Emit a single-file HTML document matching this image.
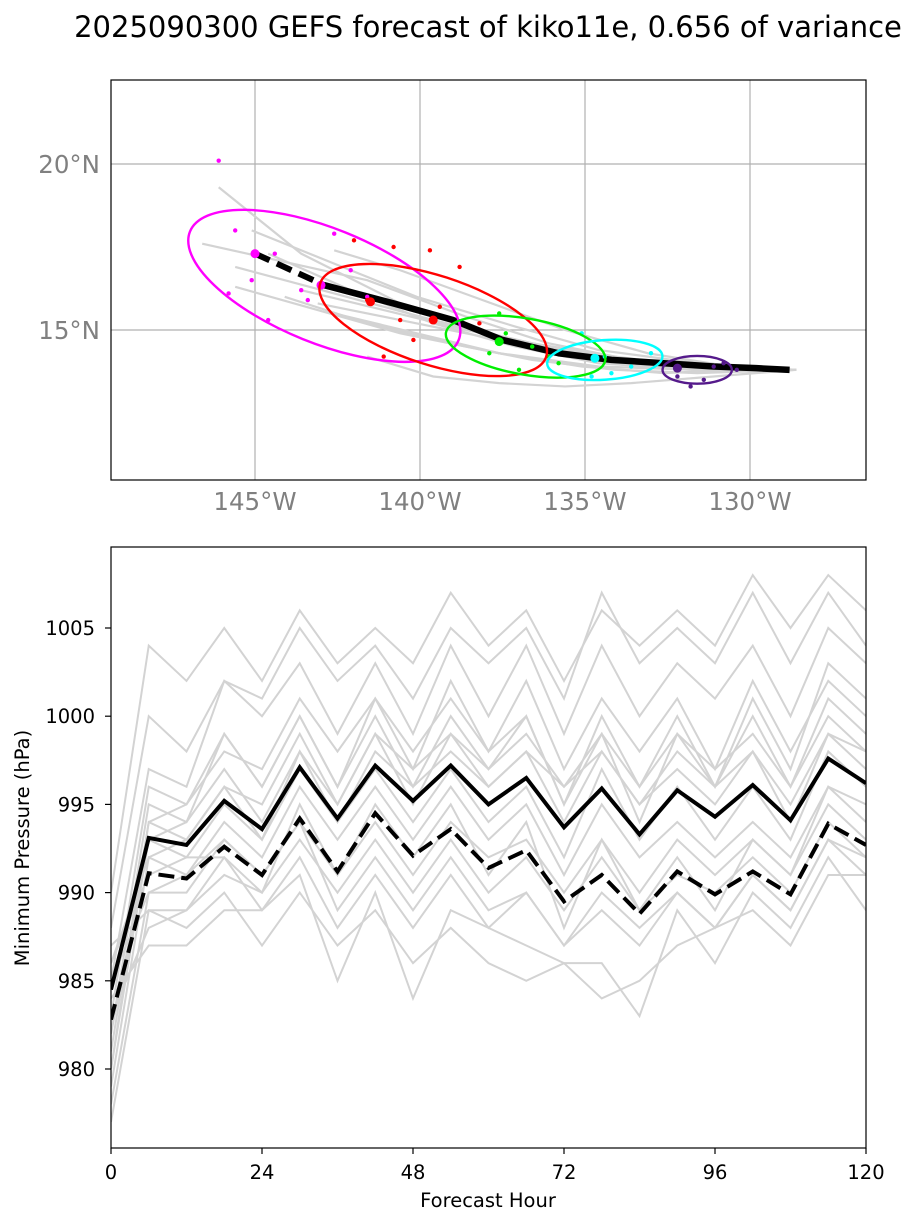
<!DOCTYPE html>
<html><head><meta charset="utf-8"><style>
body{margin:0;background:#fff;font-family:"DejaVu Sans","Liberation Sans",sans-serif;}
svg{display:block}
text{font-family:"DejaVu Sans","Liberation Sans",sans-serif;}
</style></head><body>
<svg id="fig" width="919" height="1226" xmlns="http://www.w3.org/2000/svg">
<text x="488" y="37" font-size="29" text-anchor="middle" fill="#000">2025090300 GEFS forecast of kiko11e, 0.656 of variance</text>
<g id="map"></g>
<g id="pres"></g>
</svg>
<script>
// ---- Map data ----
const lonTicks=[-145,-140,-135,-130];
const latTicks=[15,20];
const meanLon=[-145.0,-142.9,-140.8,-139.0,-137.5,-135.8,-134.2,-132.6,-131.1,-129.8,-128.8];
const meanLat=[17.3,16.35,15.8,15.3,14.7,14.3,14.1,14.0,13.9,13.85,13.8];
const trackLon=[
[-128.6,-131.6,-134.6,-137.6,-140.6,-143.6,-146.1],
[-128.6,-131.6,-134.6,-137.1,-139.6,-142.1,-144.6],
[-128.6,-131.1,-133.6,-136.1,-138.6,-141.6,-146.6],
[-128.6,-131.6,-134.1,-136.6,-139.1,-141.6,-144.1],
[-128.6,-130.6,-133.1,-135.6,-138.1,-140.6,-142.6],
[-128.6,-131.6,-134.6,-137.6,-140.6,-143.1,-145.6],
[-128.6,-131.1,-133.6,-135.6,-137.6,-139.6,-141.6],
[-128.6,-131.6,-134.6,-137.1,-140.1,-142.6,-145.1],
[-128.6,-130.6,-132.6,-135.1,-137.6,-140.1,-142.6],
[-128.6,-131.6,-134.1,-136.6,-139.6,-142.6,-145.6],
[-128.6,-131.1,-133.6,-136.1,-138.6,-141.1,-143.6],
[-128.6,-131.6,-134.1,-136.1,-138.1,-140.6,-143.1]];
const trackLat=[
[13.8,13.9,14.2,14.8,15.8,17.3,19.3],
[13.8,13.8,14.0,14.5,15.2,16.2,17.3],
[13.8,13.9,14.1,14.6,15.4,16.5,17.6],
[13.8,13.7,13.8,14.1,14.6,15.2,16.0],
[13.8,13.9,14.3,15.0,15.9,16.8,17.4],
[13.8,13.8,13.9,14.3,14.9,15.6,16.3],
[13.8,13.6,13.4,13.3,13.4,13.6,14.2],
[13.8,14.0,14.4,15.1,16.0,17.0,18.0],
[13.8,13.8,13.7,13.9,14.3,14.9,15.5],
[13.8,13.9,14.2,14.6,15.3,16.1,16.9],
[13.8,13.9,14.1,14.5,15.0,15.6,16.2],
[13.8,13.8,14.0,14.3,14.8,15.3,15.8]];
const ellColors=["#ff00ff","#ff0000","#00ee00","#00ffff","#551a8b"];
const ellLon=[-142.9,-139.6,-136.8,-134.4,-131.6];
const ellLat=[16.33,15.3,14.5,14.1,13.8];
const ellA=[4.39,3.6,2.45,1.75,1.05];
const ellB=[1.74,1.35,0.85,0.6,0.42];
const ellAng=[22,18,10,-4,0];
const bigLon=[-145.0,-143.0,-141.5,-139.6,-137.6,-134.7,-132.2];
const bigLat=[17.3,16.35,15.85,15.3,14.65,14.15,13.85];
const bigCol=[0,0,1,1,2,3,4];
const dotLon=[[-146.1,-145.6,-144.4,-142.6,-142.1,-143.6,-145.1,-145.8,-141.6,-143.4,-144.6],[-142.0,-140.8,-139.7,-138.8,-140.6,-141.6,-138.2,-140.2,-141.1,-139.4],[-137.6,-136.6,-136.1,-137.4,-137.9,-135.8,-137.0],[-135.1,-134.4,-133.6,-133.0,-134.2,-134.8],[-132.2,-131.4,-130.8,-130.4,-131.8,-131.1]];
const dotLat=[[20.1,18,17.3,17.9,16.8,16.2,16.5,16.1,16.0,15.9,15.3],[17.7,17.5,17.4,16.9,15.3,15.9,15.2,14.7,14.2,15.7],[15.5,14.5,14.2,14.9,14.3,14.0,13.8],[14.9,14.2,13.9,14.3,13.7,13.6],[13.6,13.5,14.0,13.8,13.3,13.9]];
// ---- Pressure data ----
const hours=[0,6,12,18,24,30,36,42,48,54,60,66,72,78,84,90,96,102,108,114,120];
const meanP=[984.5,993.1,992.7,995.2,993.6,997.1,994.2,997.2,995.2,997.2,995.0,996.5,993.7,995.9,993.3,995.8,994.3,996.1,994.1,997.6,996.2];
const dashP=[982.8,991.1,990.8,992.6,991.0,994.2,991.2,994.5,992.1,993.6,991.4,992.4,989.5,991.0,988.8,991.2,989.9,991.2,989.9,993.9,992.7];
const memberP=[
[990,1004,1002,1005,1002,1006,1003,1005,1003,1007,1004,1006,1002,1006,1004,1006,1004,1008,1005,1008,1006],
[988,1000,998,1002,1001,1005,1002,1004,1001,1005,1003,1005,1001,1007,1003,1005,1003,1007,1003,1007,1004],
[985,997,996,1002,1000,1003,999,1003,999,1004,1000,1004,999,1004,1000,1003,1001,1004,1000,1005,1003],
[983,996,995,998,997,1001,998,1001,997,1002,998,1002,997,1001,998,1001,997,1002,998,1002,1000],
[982,995,994,999,996,1000,996,1000,996,1000,997,1000,995,999,996,999,996,1000,996,1000,998],
[981,994,993,996,995,999,995,999,995,999,996,998,994,998,995,997,995,998,994,999,997],
[980,993,992,995,993,998,994,997,994,997,994,996,992,997,993,996,993,996,993,998,996],
[979,992,991,994,992,996,993,996,993,996,993,995,991,995,992,994,992,994,992,996,994],
[978,990,990,993,991,994,991,994,991,994,992,993,990,993,990,993,991,993,991,995,993],
[977,989,989,992,990,993,990,993,990,993,990,992,989,992,989,991,990,992,990,994,992],
[986,991,992,992,989,991,985,990,984,989,988,987,986,986,983,989,986,990,988,992,989],
[987,989,988,990,987,990,987,989,986,988,986,985,986,984,985,987,988,989,987,991,991],
[984,987,987,989,989,992,988,991,988,991,988,990,987,989,987,990,988,991,989,993,991],
[983,988,989,991,990,995,991,995,992,995,991,994,988,993,989,992,989,993,991,996,995],
[985,990,991,993,991,994,989,992,989,992,989,990,987,990,988,990,988,991,989,993,992],
[986,992,993,996,993,997,994,998,996,998,996,998,996,999,994,999,997,999,996,1001,999],
[982,993,994,997,994,998,995,999,997,999,997,999,996,998,995,998,996,998,995,999,998],
[980,994,995,999,996,1000,996,1001,998,1001,998,1000,995,1000,996,1000,996,1001,997,1003,1001]];
const pTicks=[980,985,990,995,1000,1005];
const hTicks=[0,24,48,72,96,120];

const NS="http://www.w3.org/2000/svg";
function mk(p,tag,at){const e=document.createElementNS(NS,tag);for(const k in at)e.setAttribute(k,at[k]);p.appendChild(e);return e;}
const M={x0:111,x1:866,y0:80,y1:480};
const mx=lon=>255+(lon+145)*33;
const my=lat=>330-(lat-15)*33.2;
const map=document.getElementById('map');
lonTicks.forEach(l=>{const g=mk(map,'line',{x1:mx(l),x2:mx(l),y1:M.y0,y2:M.y1,stroke:'#b0b0b0','stroke-width':1.2});

const t=mk(map,'text',{x:mx(l),y:510,'font-size':24.5,fill:'#808080','text-anchor':'middle'});t.textContent=(-l)+'°W';
});
latTicks.forEach(l=>{const g=mk(map,'line',{x1:M.x0,x2:M.x1,y1:my(l),y2:my(l),stroke:'#b0b0b0','stroke-width':1.2});

const t=mk(map,'text',{x:100,y:my(l)+9,'font-size':24.5,fill:'#808080','text-anchor':'end'});t.textContent=l+'°N';
});
const mclip=mk(map,'clipPath',{id:'mc'});mk(mclip,'rect',{x:M.x0,y:M.y0,width:M.x1-M.x0,height:M.y1-M.y0});
const mg=mk(map,'g',{'clip-path':'url(#mc)'});
trackLon.forEach((tl,i)=>{const p=mk(mg,'polyline',{points:tl.map((x,j)=>mx(x)+','+my(trackLat[i][j])).join(' '),fill:'none',stroke:'#d3d3d3','stroke-width':2.2});
});
const md=mk(mg,'polyline',{points:meanLon.slice(0,2).map((x,j)=>mx(x)+','+my(meanLat[j])).join(' '),fill:'none',stroke:'#000','stroke-width':6,'stroke-dasharray':'16,8'});

const mp=mk(mg,'polyline',{points:meanLon.slice(1).map((x,j)=>mx(x)+','+my(meanLat[j+1])).join(' '),fill:'none',stroke:'#000','stroke-width':6.5,'stroke-linejoin':'round'});

dotLon.forEach((dl,i)=>dl.forEach((x,j)=>{const c=mk(mg,'circle',{cx:mx(x),cy:my(dotLat[i][j]),r:2.2,fill:ellColors[i]});
}));
bigLon.forEach((x,i)=>{const d=mk(mg,'circle',{cx:mx(x),cy:my(bigLat[i]),r:4.5,fill:ellColors[bigCol[i]]});
});
ellLon.forEach((x,i)=>{const cx=mx(x),cy=my(ellLat[i]);
const e=mk(mg,'ellipse',{cx:cx,cy:cy,rx:ellA[i]*33,ry:ellB[i]*33,fill:'none',stroke:ellColors[i],'stroke-width':2.4,transform:`rotate(${ellAng[i]} ${cx} ${cy})`});
});
const mf=mk(map,'rect',{x:M.x0,y:M.y0,width:M.x1-M.x0,height:M.y1-M.y0,fill:'none',stroke:'#000','stroke-width':1.2});

const P={x0:111,x1:866,y0:547,y1:1148};
const px=h=>P.x0+h*(P.x1-P.x0)/120;
const py=v=>1069-(v-980)*17.64;
const pr=document.getElementById('pres');
const clip=mk(pr,'clipPath',{id:'pc'});mk(clip,'rect',{x:P.x0,y:P.y0,width:P.x1-P.x0,height:P.y1-P.y0});
const lg=mk(pr,'g',{'clip-path':'url(#pc)'});
memberP.forEach(m=>{const p=mk(lg,'polyline',{points:m.map((v,j)=>px(hours[j])+','+py(v)).join(' '),fill:'none',stroke:'#d3d3d3','stroke-width':2});
});
const l1=mk(lg,'polyline',{points:meanP.map((v,j)=>px(hours[j])+','+py(v)).join(' '),fill:'none',stroke:'#000','stroke-width':4});

const l2=mk(lg,'polyline',{points:dashP.map((v,j)=>px(hours[j])+','+py(v)).join(' '),fill:'none',stroke:'#000','stroke-width':4,'stroke-dasharray':'16,7'});

const pf=mk(pr,'rect',{x:P.x0,y:P.y0,width:P.x1-P.x0,height:P.y1-P.y0,fill:'none',stroke:'#000','stroke-width':1.2});

pTicks.forEach(v=>{mk(pr,'line',{x1:P.x0-6,x2:P.x0,y1:py(v),y2:py(v),stroke:'#000','stroke-width':1.2});
const t=mk(pr,'text',{x:P.x0-16,y:py(v)+7,'font-size':19.5,'text-anchor':'end'});t.textContent=v;
});
hTicks.forEach(h=>{mk(pr,'line',{x1:px(h),x2:px(h),y1:P.y1,y2:P.y1+6,stroke:'#000','stroke-width':1.2});
const t=mk(pr,'text',{x:px(h),y:1179,'font-size':19.5,'text-anchor':'middle'});t.textContent=h;
});
const xt=mk(pr,'text',{x:488,y:1207,'font-size':19.5,'text-anchor':'middle'});xt.textContent='Forecast Hour';

const yt=mk(pr,'text',{x:29,y:848,'font-size':19.5,'text-anchor':'middle',transform:'rotate(-90 29 848)'});yt.textContent='Minimum Pressure (hPa)';

</script>
</body></html>
